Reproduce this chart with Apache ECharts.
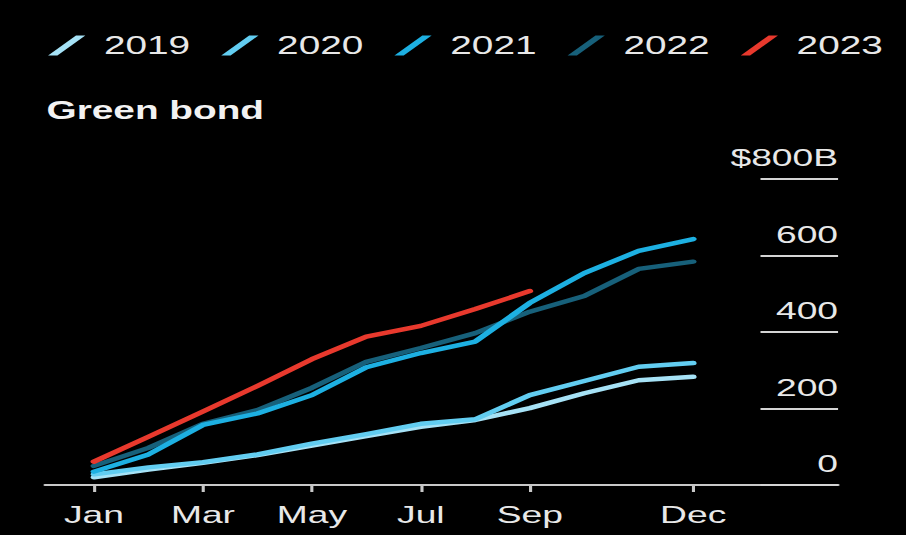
<!DOCTYPE html>
<html>
<head>
<meta charset="utf-8">
<script src="https://cdn.jsdelivr.net/npm/echarts@6/dist/echarts.min.js"></script>
<style>
  html, body { margin: 0; padding: 0; background: #000; overflow: hidden; }
  #wrap { width: 906px; height: 535px; overflow: hidden; background: #000; }
  /* the graphic uses a horizontally widened type style */
  #chart { width: 584px; height: 535px; transform: scaleX(1.5514); transform-origin: 0 0; }
</style>
</head>
<body>
<div id="wrap"><div id="chart"></div></div>
<script>
// Cumulative green bond issuance by month, $B
const months = ['Jan', 'Feb', 'Mar', 'Apr', 'May', 'Jun', 'Jul', 'Aug', 'Sep', 'Oct', 'Nov', 'Dec'];
const years = ['2019', '2020', '2021', '2022', '2023'];

const issuance2019 = [20, 40, 58, 78, 103, 128, 152, 170, 201, 240, 274, 283];
const issuance2020 = [28, 46, 60, 80, 108, 133, 160, 172, 235, 272, 309, 319];
const issuance2021 = [35, 80, 157, 187, 235, 308, 345, 375, 476, 554, 612, 643];
const issuance2022 = [50, 97, 160, 196, 254, 322, 358, 397, 453, 494, 565, 584];
const issuance2023 = [61, 126, 192, 259, 329, 388, 416, 460, 507];

const monthTicks = [0, 2, 4, 6, 8, 11];
const valueTicks = [0, 200, 400, 600, 800];

const seriesValues = [issuance2019, issuance2020, issuance2021, issuance2022, issuance2023];
const colors = ['#a6e2f6', '#62cdf1', '#1db0e2', '#17607a', '#e8392d'];
const layers = [2, 3, 5, 4, 6];

const font = '"Liberation Sans", Arial, Helvetica, sans-serif';
const textColor = '#e8e8e8';

const chart = echarts.init(document.getElementById('chart'), null, { renderer: 'svg' });

chart.setOption({
  backgroundColor: '#000',
  animation: false,
  title: {
    text: 'Green bond',
    left: 25,
    top: 93,
    textStyle: { color: '#f2f2f2', fontSize: 25, fontWeight: 'bold', fontFamily: font }
  },
  legend: {
    data: years,
    left: 26,
    top: 28,
    itemWidth: 24,
    itemHeight: 20,
    itemGap: 20,
    icon: 'path://M0,20 L6,20 L24,0 L18,0 Z',
    textStyle: { color: textColor, fontSize: 25, fontFamily: font, padding: [0, 0, 0, 7] }
  },
  grid: { left: 29, right: 43.8, top: 179, bottom: 50, containLabel: false },
  xAxis: {
    type: 'value',
    min: -0.9,
    max: 13.66,
    axisLine: { show: true, lineStyle: { color: '#c8c8c8', width: 2 } },
    axisTick: { show: true, customValues: monthTicks, length: 7, lineStyle: { color: '#c8c8c8', width: 2 } },
    axisLabel: {
      customValues: monthTicks,
      formatter: v => months[v],
      color: textColor, fontSize: 24, fontFamily: font, margin: 18
    },
    splitLine: { show: false }
  },
  yAxis: {
    type: 'value',
    position: 'right',
    min: 0,
    max: 800,
    interval: 200,
    axisLine: { show: false, onZero: false },
    axisTick: { show: true, inside: true, length: 50, lineStyle: { color: '#d4d4d4', width: 2 } },
    axisLabel: {
      inside: true,
      margin: 0,
      formatter: v => (v === valueTicks[valueTicks.length - 1] ? '$' + v + 'B' : String(v)),
      color: textColor, fontSize: 24, fontFamily: font,
      verticalAlign: 'bottom',
      padding: [0, 0, 9, 0]
    },
    splitLine: { show: false }
  },
  series: years.map((name, i) => ({
    name: name,
    type: 'line',
    data: seriesValues[i].map((v, m) => [m, v]),
    symbol: 'none',
    z: layers[i],
    lineStyle: { color: colors[i], width: 4.4, cap: 'round', join: 'round' },
    itemStyle: { color: colors[i] }
  }))
});
</script>
</body>
</html>
